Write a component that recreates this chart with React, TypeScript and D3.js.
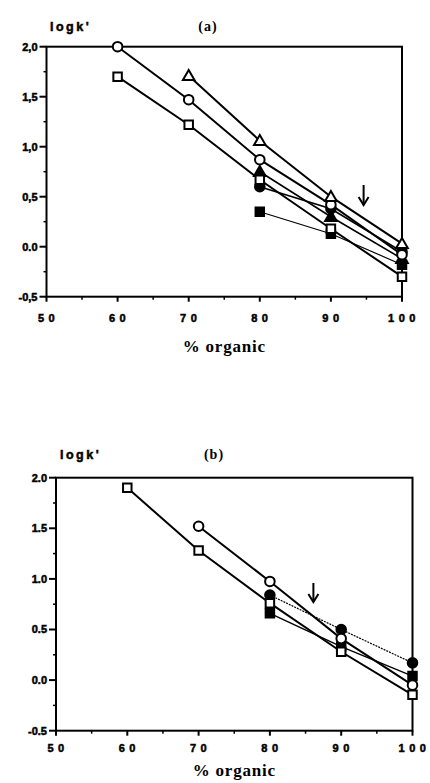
import React from "react";
import * as d3 from "d3";

// ---------- data ----------
const xTicks = [50, 60, 70, 80, 90, 100];
const xMinor = [55, 65, 75, 85, 95];
const yTicks = [-0.5, 0, 0.5, 1, 1.5, 2];
const yMinor = [-0.25, 0.25, 0.75, 1.25, 1.75];
const yLabelsA = ["-0,5", "0.0", "0,5", "1,0", "1,5", "2,0"];
const yLabelsB = ["-0.5", "0.0", "0.5", "1.0", "1.5", "2.0"];

// panel (a)
const aOpenCircle = [[60, 2.0], [70, 1.47], [80, 0.87], [90, 0.42], [100, -0.08]];
const aOpenTriangle = [[70, 1.71], [80, 1.06], [90, 0.5], [100, 0.03]];
const aOpenSquare = [[60, 1.7], [70, 1.22], [80, 0.67], [90, 0.18], [100, -0.3]];
const aFilledTriangle = [[80, 0.75], [90, 0.3], [100, -0.12]];
const aFilledCircle = [[80, 0.6], [90, 0.38], [100, -0.05]];
const aFilledSquare = [[80, 0.35], [90, 0.13], [100, -0.18]];
const aArrowX = 94.6;

// panel (b)
const bOpenSquare = [[60, 1.9], [70, 1.28], [80, 0.76], [90, 0.28], [100, -0.145]];
const bOpenCircle = [[70, 1.52], [80, 0.975], [90, 0.41], [100, -0.05]];
const bFilledCircle = [[80, 0.84], [90, 0.5], [100, 0.17]];
const bFilledSquare = [[80, 0.66], [90, 0.33], [100, 0.04]];
const bArrowX = 86.1;

type Series = { pts: number[][]; shape: string; filled: boolean; w: number; dash?: string };

const seriesA: Series[] = [
  { pts: aFilledSquare, shape: "square", filled: true, w: 1.2 },
  { pts: aFilledCircle, shape: "circle", filled: true, w: 1.6 },
  { pts: aFilledTriangle, shape: "triangle", filled: true, w: 1.6 },
  { pts: aOpenSquare, shape: "square", filled: false, w: 2 },
  { pts: aOpenCircle, shape: "circle", filled: false, w: 2 },
  { pts: aOpenTriangle, shape: "triangle", filled: false, w: 2 },
];
const seriesB: Series[] = [
  { pts: bFilledCircle, shape: "circle", filled: true, w: 1.2, dash: "2,1" },
  { pts: bFilledSquare, shape: "square", filled: true, w: 1.4 },
  { pts: bOpenSquare, shape: "square", filled: false, w: 2 },
  { pts: bOpenCircle, shape: "circle", filled: false, w: 2 },
];

const symbolType: Record<string, d3.SymbolType> = {
  circle: d3.symbolCircle,
  square: d3.symbolSquare,
  triangle: d3.symbolTriangle,
};
const symbolSize: Record<string, number> = { circle: 72, square: 72, triangle: 58 };

type PanelProps = {
  x0: number; x1: number; yTop: number; yBottom: number;
  series: Series[]; yLabels: string[]; tag: string; arrowX: number;
  arrowY0: number; arrowY1: number; titleY: number; xLabelY: number; xTitleY: number;
  logkX: number; tagX: number;
};

function Panel(p: PanelProps) {
  const x = d3.scaleLinear().domain([50, 100]).range([p.x0, p.x1]);
  const y = d3.scaleLinear().domain([-0.5, 2]).range([p.yBottom, p.yTop]);
  const line = d3.line<number[]>().x((d) => x(d[0])).y((d) => y(d[1]));
  const sansBold = "'Liberation Sans', Arial, sans-serif";
  const serif = "'Liberation Serif', 'Times New Roman', serif";
  return (
    <g>
      {/* frame */}
      <rect x={p.x0} y={p.yTop} width={p.x1 - p.x0} height={p.yBottom - p.yTop}
        fill="none" stroke="#000" strokeWidth={2} />
      {/* y ticks */}
      {yTicks.map((t, i) => (
        <g key={"y" + t}>
          <line x1={p.x0 - 7} x2={p.x0} y1={y(t)} y2={y(t)} stroke="#000" strokeWidth={2} />
          <text x={p.x0 - 9} y={y(t)} dy="0.35em" textAnchor="end" fontFamily={sansBold}
            fontWeight="bold" fontSize={11} stroke="#000" strokeWidth={0.5}>{p.yLabels[i]}</text>
        </g>
      ))}
      {yMinor.map((t) => (
        <line key={"ym" + t} x1={p.x0 - 3} x2={p.x0} y1={y(t)} y2={y(t)} stroke="#000" strokeWidth={1.5} />
      ))}
      {/* x ticks */}
      {xTicks.map((t) => (
        <g key={"x" + t}>
          <line x1={x(t)} x2={x(t)} y1={p.yBottom} y2={p.yBottom + 5} stroke="#000" strokeWidth={2} />
          <text x={x(t) + 2} y={p.xLabelY} textAnchor="middle" fontFamily={sansBold}
            fontWeight="bold" fontSize={11} letterSpacing={4.5} stroke="#000" strokeWidth={0.5}>{String(t)}</text>
        </g>
      ))}
      {xMinor.map((t) => (
        <line key={"xm" + t} x1={x(t)} x2={x(t)} y1={p.yBottom} y2={p.yBottom + 3} stroke="#000" strokeWidth={1.5} />
      ))}
      {/* lines */}
      {p.series.map((s, i) => (
        <path key={"l" + i} d={line(s.pts) || ""} fill="none" stroke="#000"
          strokeWidth={s.w} strokeDasharray={s.dash} />
      ))}
      {/* markers */}
      {p.series.map((s, i) =>
        s.pts.map((d, j) => (
          <path key={"m" + i + "-" + j}
            d={d3.symbol().type(symbolType[s.shape]).size(symbolSize[s.shape])() || ""}
            transform={`translate(${x(d[0])},${y(d[1]) + (s.shape === "triangle" ? 1 : 0)})`}
            fill={s.filled ? "#000" : "#fff"} stroke="#000" strokeWidth={2} />
        ))
      )}
      {/* arrow */}
      <g stroke="#000" strokeWidth={2} fill="none">
        <line x1={x(p.arrowX)} x2={x(p.arrowX)} y1={p.arrowY0} y2={p.arrowY1} />
        <polyline points={`${x(p.arrowX) - 5},${p.arrowY1 - 8} ${x(p.arrowX)},${p.arrowY1} ${x(p.arrowX) + 5},${p.arrowY1 - 8}`} />
      </g>
      {/* labels */}
      <text x={p.logkX} y={p.titleY} fontFamily={sansBold} fontWeight="bold" fontSize={12.5}
        letterSpacing={2.5} stroke="#000" strokeWidth={0.5}>logk'</text>
      <text x={p.tagX} y={p.titleY} textAnchor="middle" fontFamily={serif} fontWeight="bold"
        fontSize={14} letterSpacing={1}>{p.tag}</text>
      <text x={(p.x0 + p.x1) / 2} y={p.xTitleY} textAnchor="middle" fontFamily={serif}
        fontWeight="bold" fontSize={17} letterSpacing={0.8}>% organic</text>
    </g>
  );
}

export default function App() {
  return (
    <svg width={430} height={783} style={{ position: "absolute", left: 0, top: 0, background: "#fff" }}>
      <rect width={430} height={783} fill="#fff" />
      <Panel x0={46.5} x1={402} yTop={46.7} yBottom={296.7} series={seriesA} yLabels={yLabelsA}
        tag="(a)" arrowX={aArrowX} arrowY0={185} arrowY1={205} titleY={31} xLabelY={322}
        xTitleY={352} logkX={50} tagX={208} />
      <Panel x0={56} x1={412.5} yTop={477.7} yBottom={730.7} series={seriesB} yLabels={yLabelsB}
        tag="(b)" arrowX={bArrowX} arrowY0={583} arrowY1={602} titleY={459} xLabelY={752}
        xTitleY={776} logkX={60} tagX={214} />
    </svg>
  );
}
